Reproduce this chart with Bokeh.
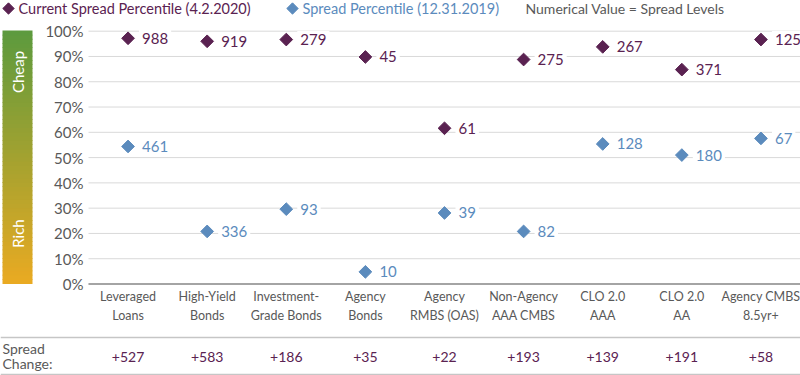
import numpy as np
from bokeh.plotting import figure
from bokeh.models import ColumnDataSource, Range1d
from bokeh.core.properties import value
from bokeh.embed import file_html
from bokeh.resources import INLINE

# ---------------- data ----------------
categories = ["Leveraged\nLoans", "High-Yield\nBonds", "Investment-\nGrade Bonds",
              "Agency\nBonds", "Agency\nRMBS (OAS)", "Non-Agency\nAAA CMBS",
              "CLO 2.0\nAAA", "CLO 2.0\nAA", "Agency CMBS\n8.5yr+"]
current_pct = [97.2, 96.0, 96.7, 89.8, 61.6, 88.8, 93.8, 84.8, 96.7]
prior_pct = [54.4, 20.8, 29.6, 4.8, 28.1, 20.8, 55.4, 51.0, 57.6]
current_spread = [988, 919, 279, 45, 61, 275, 267, 371, 125]
prior_spread = [461, 336, 93, 10, 39, 82, 128, 180, 67]
spread_change = ["+527", "+583", "+186", "+35", "+22", "+193", "+139", "+191", "+58"]
y_ticks = [0, 10, 20, 30, 40, 50, 60, 70, 80, 90, 100]
y_tick_labels = ["0%", "10%", "20%", "30%", "40%", "50%", "60%", "70%", "80%", "90%", "100%"]

legend_current = "Current Spread Percentile (4.2.2020)"
legend_prior = "Spread Percentile (12.31.2019)"
legend_note = "Numerical Value = Spread Levels"
row_label = ["Spread", "Change:"]
band_labels = ["Cheap", "Rich"]

PURPLE = "#5a2251"
BLUE = "#5b8bbd"
GREY = "#595959"
FONT = "Lato"

W, H = 800, 375
# layout (page pixels): plot area x 88..800, 100% at y=30.7, 0% at y=283.5
X0, X1 = 88, 800
NCAT = len(categories)
PXX = (X1 - X0) / NCAT
Y100, Y0 = 30.7, 283.5
PXY = (Y0 - Y100) / 100.0

def xd(fx):
    return (fx - X0) / PXX

def yd(fy):
    return (Y0 - fy) / PXY

p = figure(width=W, height=H, output_backend="svg", toolbar_location=None,
           x_range=Range1d(xd(0), xd(W)), y_range=Range1d(yd(H), yd(0)),
           x_axis_location=None, y_axis_location=None,
           min_border=0, min_border_left=0, min_border_right=0,
           min_border_top=0, min_border_bottom=0)
p.outline_line_color = None
p.xgrid.visible = False
p.ygrid.visible = False
p.background_fill_color = "white"
p.border_fill_color = "white"

xpos = np.arange(NCAT) + 0.5
txt = value(FONT)

# gridlines + tick labels
p.segment(x0=[0] * len(y_ticks), x1=[NCAT] * len(y_ticks), y0=y_ticks, y1=y_ticks,
          line_color="#d9d9d9", line_width=1)
p.text(x=[xd(83)] * len(y_ticks), y=y_ticks, text=y_tick_labels, text_align="right",
       text_baseline="middle", text_color=GREY, text_font=txt, text_font_size="15px")

# axis line at 0%
p.segment(x0=[0], x1=[NCAT], y0=[0], y1=[0], line_color="#8c8c8c", line_width=1.5)

# table lines
p.segment(x0=[xd(0)] * 2, x1=[NCAT] * 2, y0=[yd(337), yd(374)], y1=[yd(337), yd(374)],
          line_color="#c6c6c6", line_width=1.5)

# gradient bar, Rich (0%) -> Cheap (100%)
top_rgb = np.array([92, 154, 62])
bot_rgb = np.array([234, 170, 34])
n = 60
edges = np.linspace(0, 100, n + 1)
cols = []
for i in range(n):
    t = (i + 0.5) / n          # 0 at bottom, 1 at top
    c = bot_rgb + (top_rgb - bot_rgb) * t
    cols.append("#%02x%02x%02x" % tuple(int(round(v)) for v in c))
p.quad(left=xd(2), right=xd(32), bottom=edges[:-1], top=edges[1:] + 0.3,
       fill_color=cols, line_color=None)
p.text(x=[xd(17), xd(17)], y=[yd(71.5), yd(233)], text=band_labels, angle=np.pi / 2,
       text_align="center", text_baseline="middle", text_color="white",
       text_font=txt, text_font_size="15px")

# legend
p.scatter(x=[xd(8)], y=[yd(8)], marker="square", angle=np.pi / 4, size=8,
          fill_color=PURPLE, line_color=PURPLE)
p.scatter(x=[xd(292)], y=[yd(8)], marker="square", angle=np.pi / 4, size=8,
          fill_color=BLUE, line_color=BLUE)
p.text(x=[xd(18)], y=[yd(8)], text=[legend_current], text_align="left",
       text_baseline="middle", text_color=PURPLE, text_font=txt, text_font_size="14.5px")
p.text(x=[xd(302)], y=[yd(8)], text=[legend_prior], text_align="left",
       text_baseline="middle", text_color=BLUE, text_font=txt, text_font_size="14.5px")
p.text(x=[xd(525)], y=[yd(8)], text=[legend_note], text_align="left",
       text_baseline="middle", text_color=GREY, text_font=txt, text_font_size="14px")

# "Spread Change:" row label
p.text(x=[xd(2), xd(2)], y=[yd(347.5), yd(363)], text=row_label, text_align="left",
       text_baseline="middle", text_color=GREY, text_font=txt, text_font_size="14px")

src = ColumnDataSource(dict(
    x=xpos, cat=categories, cur=current_pct, pri=prior_pct,
    cur_lbl=[str(v) for v in current_spread], pri_lbl=[str(v) for v in prior_spread],
    chg=spread_change))

# value labels with white background (they cut the gridlines)
p.text(x="x", y="cur", text="cur_lbl", source=src, x_offset=11,
       text_align="left", text_baseline="middle", text_color=PURPLE,
       text_font=txt, text_font_size="15px",
       background_fill_color="white", padding=3)
p.text(x="x", y="pri", text="pri_lbl", source=src, x_offset=11,
       text_align="left", text_baseline="middle", text_color=BLUE,
       text_font=txt, text_font_size="15px",
       background_fill_color="white", padding=3)

p.scatter(x="x", y="cur", source=src, marker="square", angle=np.pi / 4,
          size=9, fill_color=PURPLE, line_color=PURPLE)
p.scatter(x="x", y="pri", source=src, marker="square", angle=np.pi / 4,
          size=9, fill_color=BLUE, line_color=BLUE)

# category labels and spread changes
p.text(x="x", y=yd(305.5), text="cat", source=src, text_align="center",
       text_baseline="middle", text_color=GREY, text_font=txt,
       text_font_size="12.5px", text_line_height=1.25)
p.text(x="x", y=yd(356.5), text="chg", source=src, text_align="center",
       text_baseline="middle", text_color=PURPLE, text_font=txt,
       text_font_size="14px")

open("out.html", "w").write(file_html(p, INLINE))
